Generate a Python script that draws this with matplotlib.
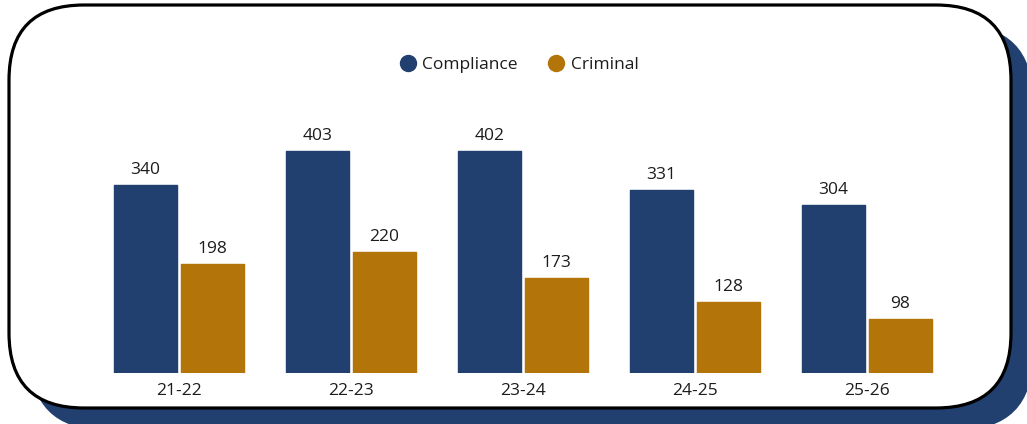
import matplotlib.pyplot as plt
from matplotlib.patches import FancyBboxPatch
from matplotlib.lines import Line2D
import numpy as np

# categories and series
years = ["21-22", "22-23", "23-24", "24-25", "25-26"]
compliance = [340, 403, 402, 331, 304]
criminal = [198, 220, 173, 128, 98]

navy = "#22406f"
gold = "#b3740a"
ink = "#1c1c1c"

plt.rcParams["font.family"] = ["Open Sans", "DejaVu Sans"]

fig = plt.figure(figsize=(10.27, 4.24), dpi=100)

# card background with offset shadow (display pixels)
shadow = FancyBboxPatch((30, -6), 1003, 405, boxstyle="round,pad=0,rounding_size=75",
                        transform=None, facecolor=navy, edgecolor="none", zorder=0)
card = FancyBboxPatch((9, 16), 1002, 403, boxstyle="round,pad=0,rounding_size=75",
                      transform=None, facecolor="white", edgecolor="black",
                      linewidth=2.3, zorder=1)
fig.patches.extend([shadow, card])

ax = fig.add_axes([93 / 1027, (424 - 373) / 424, 860 / 1027, 276 / 424])
ax.set_facecolor("none")
ax.set_zorder(2)

x = np.arange(len(years))
w = 0.366
off = 0.195
b1 = ax.bar(x - off, compliance, w, color=navy, edgecolor=navy, linewidth=1,
            joinstyle="round", label="Compliance")
b2 = ax.bar(x + off, criminal, w, color=gold, edgecolor=gold, linewidth=1,
            joinstyle="round", label="Criminal")

for bars, vals in ((b1, compliance), (b2, criminal)):
    for rect, v in zip(bars, vals):
        ax.annotate(str(v), (rect.get_x() + rect.get_width() / 2, v),
                    xytext=(0, 5), textcoords="offset points",
                    ha="center", va="bottom", fontsize=12.5, color=ink)

ax.set_xlim(-0.5, 4.5)
ax.set_ylim(0, 500)
ax.set_xticks(x)
ax.set_xticklabels(years, fontsize=12.5, color=ink)
ax.tick_params(axis="x", length=0, pad=7)
ax.set_yticks([])
for s in ax.spines.values():
    s.set_visible(False)

handles = [Line2D([], [], marker="o", linestyle="none", markersize=11.5,
                  markerfacecolor=navy, markeredgecolor=navy),
           Line2D([], [], marker="o", linestyle="none", markersize=11.5,
                  markerfacecolor=gold, markeredgecolor=gold)]
fig.legend(handles, ["Compliance", "Criminal"], loc="center",
           bbox_to_anchor=(518 / 1027, 1 - 65 / 424), ncol=2, frameon=False,
           fontsize=12.5, handletextpad=0.25, columnspacing=1.6, handlelength=1.2,
           labelcolor=ink)

fig.savefig("out.png", dpi=100)
